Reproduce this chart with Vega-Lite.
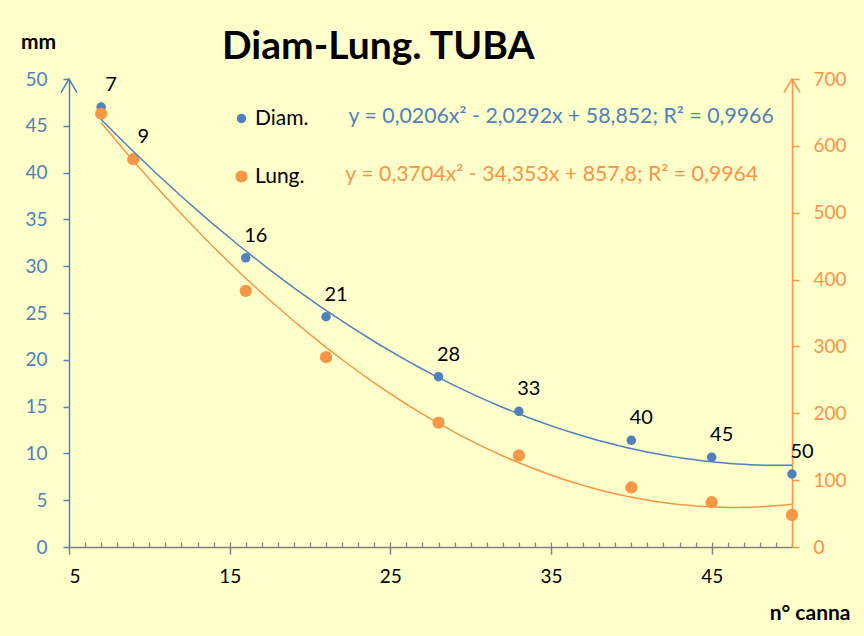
{
  "$schema": "https://vega.github.io/schema/vega-lite/v6.json",
  "width": 723,
  "height": 468,
  "autosize": {"type": "none"},
  "padding": {"left": 69, "top": 79, "right": 72, "bottom": 89},
  "background": "#FFFFCC",
  "config": {"font": "Lato", "view": {"stroke": null}},
  "title": {"text": "Diam-Lung. TUBA", "fontSize": 39, "fontWeight": "bold", "color": "black", "frame": "group", "anchor": "start", "dx": 153, "offset": 0, "dy": 36},
  "datasets": {
    "pts": [
      {"n": 7, "series": "Diam.", "value": 47.0},
      {"n": 9, "series": "Diam.", "value": 41.5},
      {"n": 16, "series": "Diam.", "value": 30.9},
      {"n": 21, "series": "Diam.", "value": 24.6},
      {"n": 28, "series": "Diam.", "value": 18.2},
      {"n": 33, "series": "Diam.", "value": 14.5},
      {"n": 40, "series": "Diam.", "value": 11.4},
      {"n": 45, "series": "Diam.", "value": 9.6},
      {"n": 50, "series": "Diam.", "value": 7.8},
      {"n": 7, "series": "Lung.", "value": 648},
      {"n": 9, "series": "Lung.", "value": 580},
      {"n": 16, "series": "Lung.", "value": 383},
      {"n": 21, "series": "Lung.", "value": 284},
      {"n": 28, "series": "Lung.", "value": 186},
      {"n": 33, "series": "Lung.", "value": 137},
      {"n": 40, "series": "Lung.", "value": 89},
      {"n": 45, "series": "Lung.", "value": 67},
      {"n": 50, "series": "Lung.", "value": 48}
    ]
  },
  "data": {"name": "pts"},
  "layer": [
    {
      "transform": [{"filter": "datum.series == 'Diam.'"}],
      "mark": {"type": "point", "filled": true, "opacity": 1, "strokeWidth": 0},
      "encoding": {
        "x": {"field": "n", "type": "quantitative", "scale": {"domain": [5, 50], "nice": false, "zero": false},
          "axis": {"orient": "bottom", "values": [5, 15, 25, 35, 45], "grid": false, "domainColor": "#7F7F7F", "domainWidth": 1.5, "tickColor": "#7F7F7F", "tickWidth": 1.5, "tickSize": 7, "labelColor": "black", "labelFontSize": 19, "labelPadding": 13, "title": "n° canna", "titleFontSize": 21, "titleFontWeight": "bold", "titleColor": "black", "titleX": 781, "titleY": 66, "titleAlign": "right", "titleAnchor": null, "titleBaseline": "middle"}},
        "y": {"field": "value", "type": "quantitative", "scale": {"domain": [0, 50], "nice": false},
          "axis": {"values": [0, 5, 10, 15, 20, 25, 30, 35, 40, 45, 50], "grid": false, "domainColor": "#4F81BD", "domainWidth": 1.5, "tickColor": "#4F81BD", "tickWidth": 1.5, "tickSize": 6, "labelColor": "#4F81BD", "labelFontSize": 19, "labelPadding": 16, "title": "mm", "titleAngle": 0, "titleX": -31, "titleY": -37, "titleAlign": "center", "titleBaseline": "middle", "titleFontSize": 21, "titleFontWeight": "bold", "titleColor": "black"}},
        "color": {"field": "series", "type": "nominal", "scale": {"domain": ["Diam.", "Lung."], "range": ["#4F81BD", "#F79646"]},
          "legend": {"orient": "none", "legendX": 162, "legendY": 29, "title": null, "labelFontSize": 21, "labelColor": "black", "rowPadding": 36, "labelOffset": 3, "padding": 0}},
        "size": {"field": "series", "type": "nominal", "scale": {"domain": ["Diam.", "Lung."], "range": [90, 150]},
          "legend": {"orient": "none", "legendX": 162, "legendY": 29, "title": null, "labelFontSize": 21, "labelColor": "black", "rowPadding": 36, "labelOffset": 3, "padding": 0}}
      }
    },
    {
      "transform": [{"filter": "datum.series == 'Lung.'"}],
      "mark": {"type": "point", "filled": true, "opacity": 1, "strokeWidth": 0},
      "encoding": {
        "x": {"field": "n", "type": "quantitative", "scale": {"domain": [5, 50], "nice": false, "zero": false}, "axis": null},
        "y": {"field": "value", "type": "quantitative", "scale": {"domain": [0, 700], "nice": false},
          "axis": {"orient": "right", "values": [0, 100, 200, 300, 400, 500, 600, 700], "grid": false, "domainColor": "#F79646", "domainWidth": 1.5, "tickColor": "#F79646", "tickWidth": 1.5, "tickSize": 7, "labelColor": "#F79646", "labelFontSize": 19, "labelPadding": 14, "title": null}},
        "color": {"field": "series", "type": "nominal"},
        "size": {"field": "series", "type": "nominal"}
      }
    },
    {
      "transform": [{"filter": "datum.series == 'Diam.'"}, {"regression": "value", "on": "n", "method": "poly", "order": 2, "extent": [7, 50]}],
      "mark": {"type": "line", "color": "#4F81BD", "strokeWidth": 1.5},
      "encoding": {
        "x": {"field": "n", "type": "quantitative", "scale": {"domain": [5, 50], "nice": false, "zero": false}, "axis": null},
        "y": {"field": "value", "type": "quantitative", "scale": {"domain": [0, 50], "nice": false}, "axis": null}
      }
    },
    {
      "transform": [{"filter": "datum.series == 'Lung.'"}, {"regression": "value", "on": "n", "method": "poly", "order": 2, "extent": [7, 50]}],
      "mark": {"type": "line", "color": "#F79646", "strokeWidth": 1.5},
      "encoding": {
        "x": {"field": "n", "type": "quantitative", "scale": {"domain": [5, 50], "nice": false, "zero": false}, "axis": null},
        "y": {"field": "value", "type": "quantitative", "scale": {"domain": [0, 700], "nice": false}, "axis": null}
      }
    },
    {
      "transform": [{"filter": "datum.series == 'Diam.'"}],
      "mark": {"type": "text", "fontSize": 20, "color": "black", "dx": 10, "dy": -22, "align": "center", "baseline": "middle"},
      "encoding": {
        "x": {"field": "n", "type": "quantitative", "scale": {"domain": [5, 50], "nice": false, "zero": false},
          "axis": {"orient": "top", "values": [5,6,7,8,9,10,11,12,13,14,15,16,17,18,19,20,21,22,23,24,25,26,27,28,29,30,31,32,33,34,35,36,37,38,39,40,41,42,43,44,45,46,47,48,49,50], "domain": false, "labels": false, "ticks": false, "grid": true, "gridDash": [5, 2000], "gridColor": "#7F7F7F", "gridWidth": 1.2, "gridOpacity": 1, "title": null}},
        "y": {"field": "value", "type": "quantitative", "scale": {"domain": [0, 50], "nice": false}, "axis": null},
        "text": {"field": "n", "type": "quantitative"}
      }
    },
    {
      "data": {"values": [{"eq": "y = 0,0206x² - 2,0292x + 58,852; R² = 0,9966"}]},
      "mark": {"type": "text", "fontSize": 21.3, "color": "#4F81BD", "align": "left", "baseline": "middle"},
      "encoding": {
        "x": {"datum": 22.4, "type": "quantitative", "scale": {"domain": [5, 50], "nice": false, "zero": false}, "axis": null},
        "y": {"datum": 45.9, "type": "quantitative", "scale": {"domain": [0, 50], "nice": false}, "axis": null},
        "text": {"field": "eq"}
      }
    },
    {
      "data": {"values": [{"eq": "y = 0,3704x² - 34,353x + 857,8; R² = 0,9964"}]},
      "mark": {"type": "text", "fontSize": 21.3, "color": "#F79646", "align": "left", "baseline": "middle"},
      "encoding": {
        "x": {"datum": 22.2, "type": "quantitative", "scale": {"domain": [5, 50], "nice": false, "zero": false}, "axis": null},
        "y": {"datum": 39.7, "type": "quantitative", "scale": {"domain": [0, 50], "nice": false}, "axis": null},
        "text": {"field": "eq"}
      }
    },
    {
      "data": {"values": [{}]},
      "mark": {"type": "point", "shape": "M-1,1.7L0,0L1,1.7", "size": 256, "filled": false, "stroke": "#4F81BD", "strokeWidth": 1.5, "opacity": 1},
      "encoding": {
        "x": {"datum": 5, "type": "quantitative", "scale": {"domain": [5, 50], "nice": false, "zero": false}, "axis": null},
        "y": {"datum": 50, "type": "quantitative", "scale": {"domain": [0, 50], "nice": false}, "axis": null}
      }
    },
    {
      "data": {"values": [{}]},
      "mark": {"type": "point", "shape": "M-1,1.7L0,0L1,1.7", "size": 256, "filled": false, "stroke": "#F79646", "strokeWidth": 1.5, "opacity": 1},
      "encoding": {
        "x": {"datum": 50, "type": "quantitative", "scale": {"domain": [5, 50], "nice": false, "zero": false}, "axis": null},
        "y": {"datum": 700, "type": "quantitative", "scale": {"domain": [0, 700], "nice": false}, "axis": null}
      }
    }
  ],
  "resolve": {"scale": {"y": "independent"}, "axis": {"x": "independent"}}
}
